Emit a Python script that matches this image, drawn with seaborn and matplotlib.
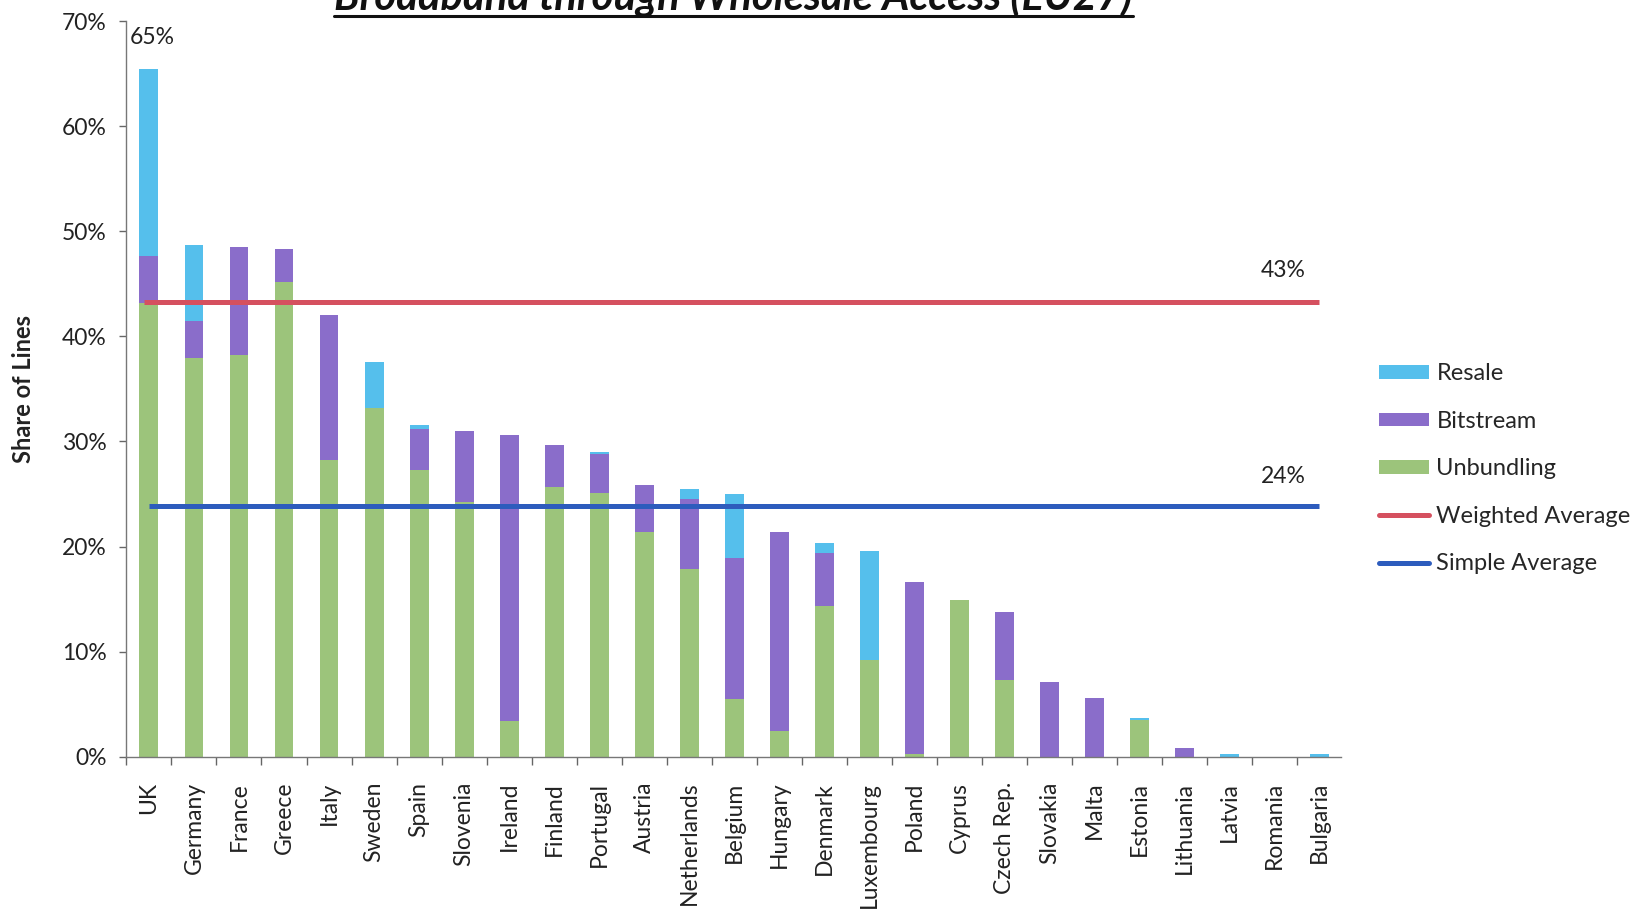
import matplotlib
matplotlib.use("Agg")
import matplotlib.pyplot as plt
import seaborn as sns
import numpy as np
import pandas as pd
from matplotlib.patches import Patch
from matplotlib.lines import Line2D
from matplotlib.ticker import FixedLocator

# Share of broadband lines provided through wholesale access, by country (%)
countries = ["UK", "Germany", "France", "Greece", "Italy", "Sweden", "Spain",
             "Slovenia", "Ireland", "Finland", "Portugal", "Austria",
             "Netherlands", "Belgium", "Hungary", "Denmark", "Luxembourg",
             "Poland", "Cyprus", "Czech Rep.", "Slovakia", "Malta", "Estonia",
             "Lithuania", "Latvia", "Romania", "Bulgaria"]
unbundling = [43.2, 37.9, 38.2, 45.2, 28.2, 33.2, 27.3, 24.2, 3.4, 25.7, 25.1,
              21.4, 17.9, 5.5, 2.5, 14.3, 9.2, 0.3, 14.9, 7.3, 0.0, 0.0, 3.5,
              0.0, 0.0, 0.0, 0.0]
bitstream = [4.4, 3.6, 10.3, 3.1, 13.8, 0.0, 3.9, 6.8, 27.2, 4.0, 3.7,
             4.5, 6.6, 13.4, 18.9, 5.1, 0.0, 16.3, 0.0, 6.5, 7.1, 5.6, 0.0,
             0.8, 0.0, 0.0, 0.0]
resale = [17.8, 7.2, 0.0, 0.0, 0.0, 4.4, 0.4, 0.0, 0.0, 0.0, 0.2,
          0.0, 1.0, 6.1, 0.0, 0.9, 10.4, 0.0, 0.0, 0.0, 0.0, 0.0, 0.2,
          0.0, 0.3, 0.0, 0.3]
weighted_average = 43.3
simple_average = 23.9
weighted_label = "43%"
simple_label = "24%"
top_label = "65%"
y_ticks = [0, 10, 20, 30, 40, 50, 60, 70]
y_tick_labels = ["0%", "10%", "20%", "30%", "40%", "50%", "60%", "70%"]
series_names = ["Resale", "Bitstream", "Unbundling", "Weighted Average", "Simple Average"]
title_text = "Broadband through Wholesale Access (EU27)"
y_title = "Share of Lines"

C_RES = "#55bfec"
C_BIT = "#8a6dca"
C_UNB = "#9cc47b"
C_WAVG = "#d5505f"
C_SAVG = "#2d5cbd"
TXT = "#222222"

sns.set_theme(style="white")
plt.rcParams["font.family"] = ["Lato", "DejaVu Sans"]

fig = plt.figure(figsize=(16.49, 9.14), dpi=100)
ax = fig.add_axes([0.0764, 0.172, 0.7366, 0.805])

df = pd.DataFrame({"country": countries, "unb": unbundling,
                   "bit": bitstream, "res": resale})
df["unb_bit"] = df["unb"] + df["bit"]
df["total"] = df["unb_bit"] + df["res"]

# stacked bars drawn as overlapping cumulative totals
for col, color in [("total", C_RES), ("unb_bit", C_BIT), ("unb", C_UNB)]:
    sns.barplot(data=df, x="country", y=col, order=countries, color=color,
                saturation=1, width=0.42, linewidth=0, ax=ax)

n = len(countries)
ax.plot([-0.1, n - 1], [weighted_average, weighted_average], color=C_WAVG, lw=3.6,
        solid_capstyle="butt")
ax.plot([0, n - 1], [simple_average, simple_average], color=C_SAVG, lw=3.6,
        solid_capstyle="butt")

ax.text(25.2, weighted_average + 3.0, weighted_label, ha="center", va="center",
        fontsize=16.5, color=TXT)
ax.text(25.2, simple_average + 2.8, simple_label, ha="center", va="center",
        fontsize=16.5, color=TXT)
ax.text(-0.42, 68.4, top_label, ha="left", va="center", fontsize=16.5, color=TXT)

ax.set_xlim(-0.51, n - 0.53)
ax.set_ylim(0, 70)
ax.set_yticks(y_ticks)
ax.set_yticklabels(y_tick_labels, fontsize=16.5, color=TXT)
ax.set_xticks(range(n))
ax.set_xticklabels(countries, rotation=90, fontsize=16.5, color=TXT,
                   ha="center", va="top")
ax.xaxis.set_minor_locator(FixedLocator(np.arange(-0.5, n, 1.0)))
ax.tick_params(axis="x", which="major", length=0, pad=18)
ax.tick_params(axis="x", which="minor", bottom=True, length=6, width=1,
               color="#666666", direction="out")
ax.tick_params(axis="y", which="major", left=True, length=5, width=1,
               color="#666666", direction="out", pad=9)
ax.set_xlabel("")
ax.set_ylabel(y_title, fontsize=17, fontweight="bold", color=TXT)
ax.yaxis.set_label_coords(-0.075, 0.5)

for side in ["top", "right"]:
    ax.spines[side].set_visible(False)
for side in ["left", "bottom"]:
    ax.spines[side].set_color("#777777")
    ax.spines[side].set_linewidth(1.0)
ax.grid(False)

handles = [Patch(facecolor=C_RES, edgecolor="none"),
           Patch(facecolor=C_BIT, edgecolor="none"),
           Patch(facecolor=C_UNB, edgecolor="none"),
           Line2D([], [], color=C_WAVG, lw=3.6),
           Line2D([], [], color=C_SAVG, lw=3.6)]
fig.legend(handles, series_names, loc="center left",
           bbox_to_anchor=(0.836, 0.487), frameon=False, fontsize=17,
           handlelength=2.15, handleheight=0.5, handletextpad=0.3,
           labelspacing=1.12, borderpad=0, borderaxespad=0)

# title sits at the top edge, partly clipped, with an underline
title = fig.text(0.4448, 0.990, title_text, ha="center", va="baseline",
                 fontsize=25, fontweight="bold", fontstyle="italic", color="#111111")
fig.canvas.draw()
renderer = fig.canvas.get_renderer()
bb = title.get_window_extent(renderer)
title.set_fontsize(25 * 800.0 / bb.width)
fig.canvas.draw()
bb = title.get_window_extent(renderer)
W, H = fig.bbox.width, fig.bbox.height
fig.add_artist(Line2D([bb.x0 / W, bb.x1 / W], [0.9825, 0.9825],
                      transform=fig.transFigure, color="#111111", lw=2.2))

fig.savefig("out.png", dpi=100)
